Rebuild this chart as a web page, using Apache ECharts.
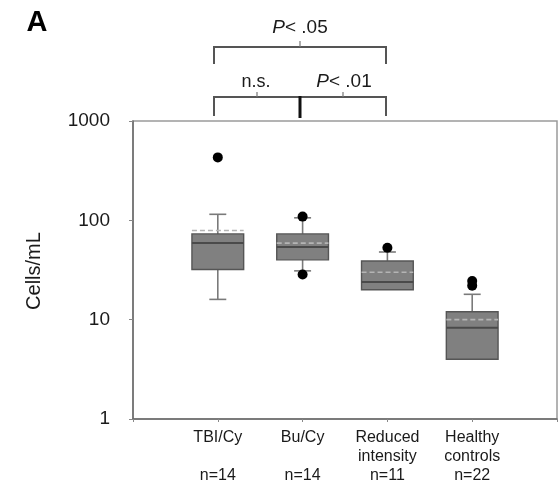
<!DOCTYPE html>
<html>
<head>
<meta charset="utf-8">
<script src="https://cdn.jsdelivr.net/npm/echarts@6/dist/echarts.min.js"></script>
<style>
  html, body { margin: 0; padding: 0; background: #fff; }
  #chart { width: 560px; height: 488px; }
</style>
</head>
<body>
<div id="chart"></div>
<script>
// ---- data ----
var categories = ['TBI/Cy', 'Bu/Cy', 'Reduced\nintensity', 'Healthy\ncontrols'];
var groupSizes = ['n=14', 'n=14', 'n=11', 'n=22'];
var whiskerLow = [16, 31, 20, 4];
var q1 = [32, 40, 20, 4];
var medians = [59, 54, 24, 8.3];
var q3 = [73, 73, 39, 12];
var whiskerHigh = [115, 106, 48, 18];
var means = [79, 59, 30, 10];
var outlierGroup = [1, 2, 2, 3, 4, 4];
var outlierValue = [430, 109, 28.5, 53, 22, 24.5];
var yTicks = [1, 10, 100, 1000];

var FONT = '"Liberation Sans", Arial, Helvetica, sans-serif';
var TEXT = '#1a1a1a';

var boxData = categories.map(function (c, i) {
  return [i + 1, whiskerLow[i], q1[i], medians[i], q3[i], whiskerHigh[i], means[i]];
});
var outlierData = outlierGroup.map(function (g, i) { return [g, outlierValue[i]]; });

function renderBox(params, api) {
  var x = api.value(0);
  var wl = api.value(1), b1 = api.value(2), md = api.value(3), b3 = api.value(4), wh = api.value(5), mn = api.value(6);
  var left = api.coord([x - 0.305, md])[0];
  var right = api.coord([x + 0.305, md])[0];
  var capL = api.coord([x - 0.1, md])[0];
  var capR = api.coord([x + 0.1, md])[0];
  var cx = api.coord([x, md])[0];
  var yWl = api.coord([x, wl])[1], yQ1 = api.coord([x, b1])[1], yMd = api.coord([x, md])[1];
  var yQ3 = api.coord([x, b3])[1], yWh = api.coord([x, wh])[1], yMn = api.coord([x, mn])[1];
  var wStyle = { stroke: '#7a7a7a', lineWidth: 1.6 };
  var children = [];
  if (wh > b3) {
    children.push({ type: 'line', shape: { x1: cx, y1: yQ3, x2: cx, y2: yWh }, style: wStyle });
    children.push({ type: 'line', shape: { x1: capL, y1: yWh, x2: capR, y2: yWh }, style: wStyle });
  }
  if (wl < b1) {
    children.push({ type: 'line', shape: { x1: cx, y1: yQ1, x2: cx, y2: yWl }, style: wStyle });
    children.push({ type: 'line', shape: { x1: capL, y1: yWl, x2: capR, y2: yWl }, style: wStyle });
  }
  children.push({ type: 'rect', shape: { x: left, y: yQ3, width: right - left, height: yQ1 - yQ3 },
    style: { fill: '#808080', stroke: '#555', lineWidth: 1.4 } });
  children.push({ type: 'line', shape: { x1: left, y1: yMd, x2: right, y2: yMd },
    style: { stroke: '#4a4a4a', lineWidth: 2 } });
  children.push({ type: 'line', shape: { x1: left, y1: yMn, x2: right, y2: yMn },
    style: { stroke: '#b4b4b4', lineWidth: 1.6, lineDash: [5, 3] } });
  return { type: 'group', children: children };
}

var chart = echarts.init(document.getElementById('chart'));
chart.setOption({
  backgroundColor: '#fff',
  animation: false,
  grid: { left: 133, right: 1, top: 121, bottom: 69, show: true, borderColor: '#9a9a9a', borderWidth: 1.5 },
  xAxis: {
    type: 'value', min: 0, max: 5, interval: 1,
    axisLine: { show: true, lineStyle: { color: '#6a6a6a', width: 1.5 } },
    axisTick: { show: true, length: 3, lineStyle: { color: '#888' } },
    splitLine: { show: false },
    axisLabel: {
      margin: 9, color: TEXT, fontFamily: FONT, fontSize: 16, lineHeight: 19,
      formatter: function (v) {
        var i = Math.round(v) - 1;
        if (i < 0 || i >= categories.length) return '';
        var name = categories[i];
        if (name.indexOf('\n') < 0) name = name + '\n';
        return name + '\n' + groupSizes[i];
      }
    }
  },
  yAxis: {
    type: 'log', logBase: 10, min: 1, max: 1000,
    axisLine: { show: true, lineStyle: { color: '#6a6a6a', width: 1.5 } },
    axisTick: { show: true, length: 4, lineStyle: { color: '#888' } },
    minorTick: { show: false },
    splitLine: { show: false },
    axisLabel: {
      margin: 23, color: TEXT, fontFamily: FONT, fontSize: 19,
      formatter: function (v) {
        for (var k = 0; k < yTicks.length; k++) if (Math.abs(v - yTicks[k]) < 1e-6 * yTicks[k]) return String(yTicks[k]);
        return '';
      }
    }
  },
  series: [
    { type: 'custom', renderItem: renderBox, data: boxData, encode: { x: 0, y: [1, 2, 3, 4, 5, 6] }, z: 2 },
    { type: 'scatter', data: outlierData, symbol: 'circle', symbolSize: 10,
      itemStyle: { color: '#000', opacity: 1 }, z: 3 }
  ],
  graphic: [
    { type: 'text', x: 37, y: 23, style: { text: 'A', font: 'bold 29px ' + FONT, fill: '#000', align: 'center', verticalAlign: 'middle' } },
    { type: 'text', x: 34, y: 271, rotation: Math.PI / 2,
      style: { text: 'Cells/mL', font: '20px ' + FONT, fill: TEXT, align: 'center', verticalAlign: 'middle' } },
    { type: 'text', x: 300, y: 28,
      style: { text: '{i|P}{n|< .05}', align: 'center', verticalAlign: 'middle',
        rich: { i: { fontStyle: 'italic', fontSize: 19, fontFamily: FONT, fill: TEXT },
                n: { fontSize: 19, fontFamily: FONT, fill: TEXT } } } },
    { type: 'text', x: 256, y: 82,
      style: { text: 'n.s.', font: '18px ' + FONT, fill: TEXT, align: 'center', verticalAlign: 'middle' } },
    { type: 'text', x: 344, y: 82,
      style: { text: '{i|P}{n|< .01}', align: 'center', verticalAlign: 'middle',
        rich: { i: { fontStyle: 'italic', fontSize: 19, fontFamily: FONT, fill: TEXT },
                n: { fontSize: 19, fontFamily: FONT, fill: TEXT } } } },
    { type: 'polyline', shape: { points: [[214, 64], [214, 47], [386, 47], [386, 64]] },
      style: { stroke: '#555', lineWidth: 2, fill: null } },
    { type: 'line', shape: { x1: 300, y1: 41, x2: 300, y2: 47 }, style: { stroke: '#777', lineWidth: 1.2 } },
    { type: 'polyline', shape: { points: [[214, 116], [214, 97], [386, 97], [386, 116]] },
      style: { stroke: '#555', lineWidth: 2, fill: null } },
    { type: 'line', shape: { x1: 300, y1: 96, x2: 300, y2: 118 }, style: { stroke: '#111', lineWidth: 3 } },
    { type: 'line', shape: { x1: 257, y1: 92, x2: 257, y2: 97 }, style: { stroke: '#777', lineWidth: 1.2 } },
    { type: 'line', shape: { x1: 343, y1: 92, x2: 343, y2: 97 }, style: { stroke: '#777', lineWidth: 1.2 } }
  ]
});
</script>
</body>
</html>
